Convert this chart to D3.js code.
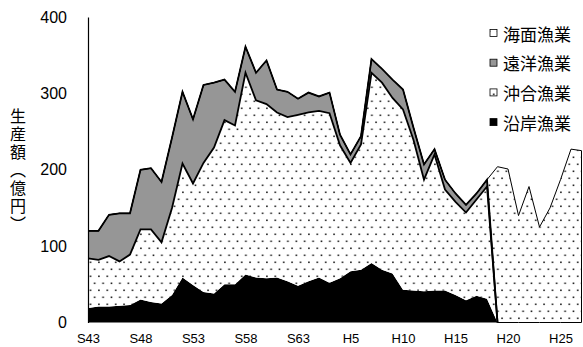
<!DOCTYPE html>
<html>
<head>
<meta charset="utf-8">
<script src="https://cdn.jsdelivr.net/npm/d3@7"></script>
<style>
  body { margin: 0; background: #fff; }
  svg { display: block; }
</style>
</head>
<body>
<svg id="chart" width="583" height="347"></svg>
<script>
// years S43 (1968) .. H27 (2015)
const years = [1968, 1969, 1970, 1971, 1972, 1973, 1974, 1975, 1976, 1977, 1978, 1979,
  1980, 1981, 1982, 1983, 1984, 1985, 1986, 1987, 1988, 1989, 1990, 1991,
  1992, 1993, 1994, 1995, 1996, 1997, 1998, 1999, 2000, 2001, 2002, 2003,
  2004, 2005, 2006, 2007, 2008, 2009, 2010, 2011, 2012, 2013, 2014, 2015];

const tickYears = [1968, 1973, 1978, 1983, 1988, 1993, 1998, 2003, 2008, 2013];
const tickLabels = ["S43", "S48", "S53", "S58", "S63", "H5", "H10", "H15", "H20", "H25"];
const yTicks = [0, 100, 200, 300, 400];

// 沿岸漁業
const coastal = [19, 21, 21, 22, 23, 30, 27, 25, 36, 59, 49, 40, 38, 50, 50, 63, 59, 58, 59, 54,
  48, 54, 59, 52, 58, 67, 69, 78, 69, 64, 43, 42, 41, 42, 42, 36, 29, 35, 31,
  0, 0, 0, 0, 0, 0, 0, 0, 0];
// 沖合漁業
const offshore = [65, 61, 66, 58, 66, 92, 95, 80, 114, 149, 133, 169, 191, 215, 208, 264, 232, 228, 216, 215,
  224, 221, 218, 222, 174, 142, 164, 249, 245, 230, 236, 197, 146, 178, 132, 122, 115, 126, 147,
  0, 0, 0, 0, 0, 0, 0, 0, 0];
// 遠洋漁業
const distant = [36, 38, 54, 63, 54, 78, 80, 79, 92, 94, 84, 102, 85, 53, 44, 34, 36, 57, 30, 33,
  21, 26, 19, 27, 14, 11, 11, 18, 18, 24, 26, 16, 20, 7, 13, 11, 10, 8, 9,
  0, 0, 0, 0, 0, 0, 0, 0, 0];
// 海面漁業 (only the total is given from H19 on)
const marine = [0, 0, 0, 0, 0, 0, 0, 0, 0, 0, 0, 0, 0, 0, 0, 0, 0, 0, 0, 0,
  0, 0, 0, 0, 0, 0, 0, 0, 0, 0, 0, 0, 0, 0, 0, 0, 0, 0, 0,
  204, 201, 140, 178, 125, 150, 187, 227, 225];

const seriesKeys = ["coastal", "offshore", "distant", "marine"];
const seriesNames = { coastal: "沿岸漁業", offshore: "沖合漁業", distant: "遠洋漁業", marine: "海面漁業" };

const svg = d3.select('#chart');

const X0 = 88, X1 = 581.5;
const Y0 = 322.5, Y1 = 17;

const x = d3.scaleLinear().domain([years[0], years[years.length - 1]]).range([X0, X1]);
const y = d3.scaleLinear().domain([0, 400]).range([Y0, Y1]);

const table = years.map((yr, i) => ({
  year: yr,
  coastal: coastal[i],
  offshore: offshore[i],
  distant: distant[i],
  marine: marine[i]
}));

const stacked = d3.stack().keys(seriesKeys)(table);

// dot pattern used by 沖合 and 海面
const defs = svg.append('defs');
const dots = defs.append('pattern')
  .attr('id', 'dots')
  .attr('patternUnits', 'userSpaceOnUse')
  .attr('width', 8.4)
  .attr('height', 14);
dots.append('rect').attr('width', 8.4).attr('height', 14).attr('fill', '#fff');
dots.append('rect').attr('x', 1.5).attr('y', 2.5).attr('width', 1.6).attr('height', 1.6).attr('fill', '#222');
dots.append('rect').attr('x', 5.7).attr('y', 9.5).attr('width', 1.6).attr('height', 1.6).attr('fill', '#222');

const fills = { coastal: '#000', offshore: 'url(#dots)', distant: '#969696', marine: 'url(#dots)' };

const area = d3.area()
  .x(d => x(d.data.year))
  .y0(d => y(d[0]))
  .y1(d => y(d[1]));

stacked.forEach(s => {
  svg.append('path')
    .datum(s)
    .attr('d', area)
    .attr('fill', fills[s.key])
    .attr('stroke', s.key === 'marine' ? '#000' : 'none')
    .attr('stroke-width', 1);
});

// outline of 沖合 / 遠洋 tops, up to the point where they drop to zero
const lastIdx = table.findIndex(d => d.coastal + d.offshore + d.distant === 0);
['offshore', 'distant'].forEach(key => {
  const s = stacked.find(t => t.key === key);
  svg.append('path')
    .datum(s.filter((d, i) => i <= lastIdx))
    .attr('d', d3.line().x(d => x(d.data.year)).y(d => y(d[1])))
    .attr('fill', 'none')
    .attr('stroke', '#000')
    .attr('stroke-width', 1.8)
    .attr('stroke-linejoin', 'miter');
});

// y axis
const yAxis = svg.append('g')
  .attr('transform', `translate(${X0},0)`)
  .call(d3.axisLeft(y).tickValues(yTicks).tickSize(0).tickSizeOuter(0).tickPadding(21));
yAxis.select('.domain').attr('stroke', '#000').attr('stroke-width', 1.2);
yAxis.selectAll('text')
  .attr('font-family', '"Liberation Sans", Arial, sans-serif')
  .attr('font-size', 16)
  .attr('fill', '#000');

// x axis
const xAxis = svg.append('g')
  .attr('transform', `translate(0,${Y0})`)
  .call(d3.axisBottom(x).tickValues(tickYears)
    .tickFormat((d, i) => tickLabels[i]).tickSize(0).tickPadding(11));
xAxis.select('.domain').remove();
xAxis.selectAll('text')
  .attr('font-family', '"Liberation Sans", Arial, sans-serif')
  .attr('font-size', 13)
  .attr('fill', '#000');

// y title
svg.append('text')
  .text('生産額（億円）')
  .attr('x', 18)
  .attr('y', 108)
  .attr('font-family', '"Noto Sans CJK JP", sans-serif')
  .attr('font-size', 16)
  .attr('letter-spacing', 2)
  .style('writing-mode', 'vertical-rl');

// legend (top to bottom)
const legendKeys = ["marine", "distant", "offshore", "coastal"];
const legend = svg.append('g');
legendKeys.forEach((key, i) => {
  const cy = 33 + i * 29.7;
  legend.append('rect')
    .attr('x', 490)
    .attr('y', cy - 3.5)
    .attr('width', 7)
    .attr('height', 7)
    .attr('fill', fills[key])
    .attr('stroke', '#000')
    .attr('stroke-width', 0.8);
  legend.append('text')
    .text(seriesNames[key])
    .attr('x', 503)
    .attr('y', cy)
    .attr('dominant-baseline', 'central')
    .attr('font-family', '"Noto Sans CJK JP", sans-serif')
    .attr('font-size', 17)
    .attr('fill', '#000');
});
</script>
</body>
</html>
